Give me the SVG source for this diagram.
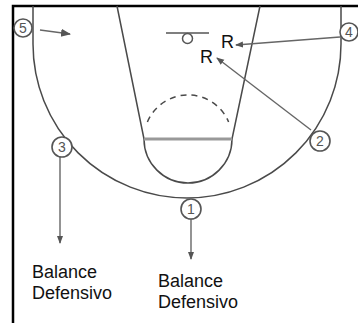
<svg xmlns="http://www.w3.org/2000/svg" width="358" height="323" viewBox="0 0 358 323">
<style>
.court{fill:none;stroke:#4a4a4a;stroke-width:1.5}
.mv{fill:none;stroke:#666;stroke-width:1.4}
.pl{fill:#fff;stroke:#555;stroke-width:1.6}
.num{font-family:"Liberation Sans",Arial,sans-serif;font-size:14px;fill:#555;text-anchor:middle}
.lbl{font-family:"Liberation Sans",Arial,sans-serif;font-size:18px;fill:#111}
</style>
<defs>
<marker id="ah" markerUnits="userSpaceOnUse" markerWidth="8" markerHeight="8" viewBox="0 0 8 8" refX="7" refY="4" orient="auto">
<path d="M0,1 L8,4 L0,7 z" fill="#555"/>
</marker>
<marker id="ahb" markerUnits="userSpaceOnUse" markerWidth="10" markerHeight="10" viewBox="0 0 10 10" refX="9" refY="5" orient="auto">
<path d="M0,1 L10,5 L0,9 z" fill="#555"/>
</marker>
</defs>
<rect width="358" height="323" fill="#fff"/>
<g id="court">
<path d="M13,323 V6 H358" fill="none" stroke="#000" stroke-width="2.5"/>
<path class="court" d="M33,6 V44 A154,154 0 0 0 341,44 V6"/>
<path class="court" d="M117,6 L144,139 M260,6 L232,139"/>
<path class="court" d="M144,139 A44,44 0 0 0 232,139"/>
<line x1="144" y1="139" x2="232" y2="139" stroke="#999" stroke-width="3"/>
<path class="court" d="M147.4,122 A44,44 0 0 1 228.6,122" stroke-dasharray="6,5" stroke-width="2"/>
<line x1="166" y1="33" x2="209" y2="33" stroke="#555" stroke-width="1.5"/>
<circle cx="187.5" cy="38.5" r="5" fill="none" stroke="#555" stroke-width="1.5"/>
</g>
<g id="connectors">
<line class="mv" x1="40" y1="30" x2="70" y2="34" stroke-width="3" stroke="#555" marker-end="url(#ahb)"/>
<line class="mv" x1="340" y1="37" x2="236" y2="45" marker-end="url(#ah)"/>
<line class="mv" x1="311" y1="130" x2="217" y2="58" marker-end="url(#ah)"/>
<line class="mv" x1="60" y1="157" x2="60" y2="243" marker-end="url(#ah)"/>
<line class="mv" x1="191" y1="219" x2="191" y2="259" marker-end="url(#ah)"/>
</g>
<g id="p5"><circle class="pl" cx="23" cy="28" r="9"/><text class="num" x="23" y="33">5</text></g>
<g id="p4"><circle class="pl" cx="349" cy="32" r="9"/><text class="num" x="349" y="37">4</text></g>
<g id="p3"><circle class="pl" cx="62" cy="147" r="10"/><text class="num" x="62" y="152">3</text></g>
<g id="p2"><circle class="pl" cx="320" cy="141" r="10"/><text class="num" x="320" y="146">2</text></g>
<g id="p1"><circle class="pl" cx="191" cy="209" r="10"/><text class="num" x="191" y="214">1</text></g>
<g id="labels">
<text class="lbl" x="221" y="48">R</text>
<text class="lbl" x="200" y="63">R</text>
<text class="lbl" x="32" y="278">Balance</text>
<text class="lbl" x="32" y="299">Defensivo</text>
<text class="lbl" x="158" y="287">Balance</text>
<text class="lbl" x="158" y="308">Defensivo</text>
</g>
</svg>
